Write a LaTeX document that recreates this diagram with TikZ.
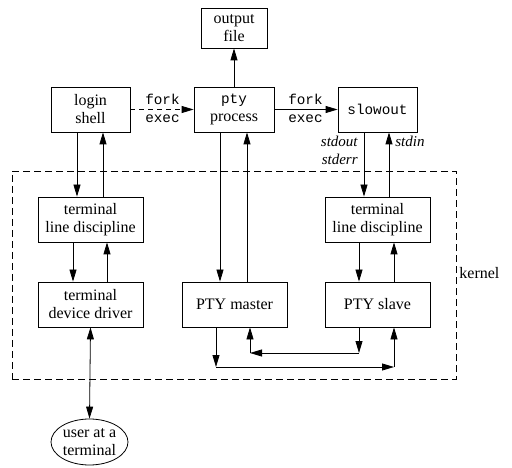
\documentclass[tikz,border=0pt]{standalone}
\usepackage{fontspec}
\setmainfont{Liberation Serif}
\setmonofont{Liberation Mono}
\usetikzlibrary{arrows.meta,shapes.geometric}
\begin{document}
\begin{tikzpicture}[x=1pt,y=-1pt,
  line width=0.8pt,
  every node/.style={font=\fontsize{16}{18}\selectfont},
  box/.style={draw, rectangle, inner sep=0pt, align=center, minimum height=45pt},
  wbox/.style={box, minimum width=105pt},
  arr/.style={-{Triangle[length=12pt,width=7pt]}},
  darr/.style={{Triangle[length=12pt,width=7pt]}-{Triangle[length=12pt,width=7pt]}},
  mono/.style={font=\ttfamily\fontsize{14.3}{18}\selectfont, align=center, inner sep=0pt},
  ital/.style={font=\itshape\fontsize{15}{18}\selectfont, inner sep=0pt}
]
\useasboundingbox (0,0) rectangle (512,468);

% kernel region
\node[draw, dash pattern=on 7pt off 4pt, line width=0.7pt, rectangle, minimum width=444pt, minimum height=208pt, inner sep=0pt] (kern) at (234,275) {};
\node[anchor=west, inner sep=0pt] (kernlbl) at (459,273) {kernel};

% top processes
\node[box, minimum width=66pt, minimum height=40pt] (out) at (234,28) {output\\file};
\node[box, minimum width=79pt] (login) at (90.5,109.5) {login\\shell};
\node[box, minimum width=80pt] (pty) at (234,109.5) {\ttfamily\fontsize{14.3}{18}\selectfont pty\\process};
\node[box, minimum width=79pt] (slow) at (377.5,109.5) {\ttfamily\fontsize{14.3}{18}\selectfont slowout};

% kernel boxes
\node[wbox] (ld1) at (90.5,219.5) {terminal\\line discipline};
\node[wbox] (ld2) at (377.5,219.5) {terminal\\line discipline};
\node[wbox] (dd) at (90.5,304.5) {terminal\\device driver};
\node[wbox] (pm) at (234.5,304.5) {PTY master};
\node[wbox] (ps) at (377.5,304.5) {PTY slave};

% user
\node[draw, ellipse, minimum width=77pt, minimum height=46pt, inner sep=0pt, align=center] (user) at (89.5,442) {user at a\\terminal};

% labels
\node[mono] (fe1) at (162.5,108) {fork\\exec};
\node[mono] (fe2) at (305.5,108) {fork\\exec};
\node[ital, anchor=east, align=right] (sout) at (358,150) {stdout\\stderr};
\node[ital, anchor=west] (sin) at (395,141) {stdin};

% process connections
\draw[arr, dash pattern=on 5pt off 4pt] (login.east) -- (pty.west);
\draw[arr] (pty.east) -- (slow.west);
\draw[arr] (pty.north) -- (out.south);

% login shell <-> line discipline
\draw[arr] ([xshift=-13.5pt]login.south) -- ([xshift=-13.5pt]ld1.north);
\draw[arr] ([xshift=12.5pt]ld1.north) -- ([xshift=12.5pt]login.south);
% pty process <-> PTY master
\draw[arr] ([xshift=-14pt]pty.south) -- ([xshift=-14.5pt]pm.north);
\draw[arr] ([xshift=12.5pt]pm.north) -- ([xshift=13pt]pty.south);
% slowout <-> line discipline
\draw[arr] ([xshift=-13.5pt]slow.south) -- ([xshift=-13.5pt]ld2.north);
\draw[arr] ([xshift=11.5pt]ld2.north) -- ([xshift=11.5pt]slow.south);
% line discipline <-> device driver / PTY slave
\draw[arr] ([xshift=-17.5pt]ld1.south) -- ([xshift=-17.5pt]dd.north);
\draw[arr] ([xshift=16.5pt]dd.north) -- ([xshift=16.5pt]ld1.south);
\draw[arr] ([xshift=-18.5pt]ld2.south) -- ([xshift=-18.5pt]ps.north);
\draw[arr] ([xshift=16.5pt]ps.north) -- ([xshift=16.5pt]ld2.south);
% device driver <-> user
\draw[darr] (dd.south) -- (user.north);

% PTY master <-> PTY slave loop
\coordinate (la) at (216,367);
\coordinate (lb) at (394,367);
\coordinate (ua) at (359,353);
\coordinate (ub) at (250,353);
\draw[arr] (la |- pm.south) -- (la);
\draw[arr] (la) -- (lb);
\draw[arr] (lb) -- (lb |- ps.south);
\draw[arr] (ua |- ps.south) -- (ua);
\draw[arr] (ua) -- (ub);
\draw[arr] (ub) -- (ub |- pm.south);
\end{tikzpicture}
\end{document}
